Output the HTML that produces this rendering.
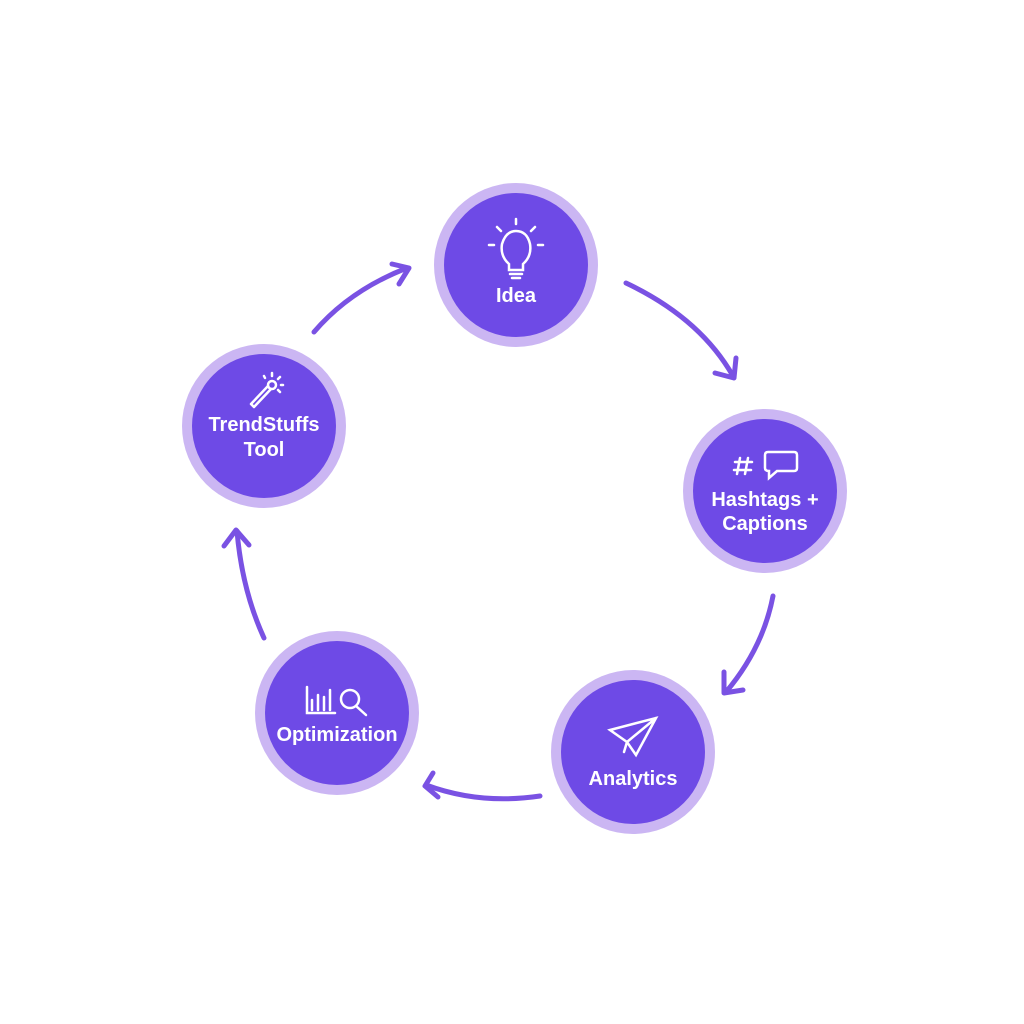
<!DOCTYPE html>
<html><head><meta charset="utf-8"><style>
html,body{margin:0;padding:0;background:#fff;width:1024px;height:1024px;overflow:hidden}
svg{display:block}
text{font-family:"Liberation Sans",sans-serif;font-weight:bold;fill:#fff;text-anchor:middle}
</style></head><body>
<svg width="1024" height="1024" viewBox="0 0 1024 1024">
<defs>
<marker id="a" viewBox="0 0 20 20" refX="12" refY="10" markerWidth="6" markerHeight="6" markerUnits="userSpaceOnUse" orient="auto" overflow="visible">
</marker>
</defs>
<g fill="none" stroke="#7a52e3" stroke-width="5" stroke-linecap="round" stroke-linejoin="round">
<path d="M314 332 Q350 290 407 268"/><path d="M392 264 L409 268 L399 284"/>
<path d="M626 283 Q700 318 733 376"/><path d="M715 373 L734 378 L736 358"/>
<path d="M773 596 Q763 648 726 692"/><path d="M724 672 L724 693 L743 690"/>
<path d="M540 796 Q480 805 426 785"/><path d="M433 773 L425 786 L438 797"/>
<path d="M264 638 Q242 590 237 531"/><path d="M224 546 L236 530 L249 545"/>
</g>
<g>
<circle cx="516" cy="265" r="82" fill="#cbb6f3"/><circle cx="516" cy="265" r="72" fill="#6e4ae6"/>
<circle cx="765" cy="491" r="82" fill="#cbb6f3"/><circle cx="765" cy="491" r="72" fill="#6e4ae6"/>
<circle cx="633" cy="752" r="82" fill="#cbb6f3"/><circle cx="633" cy="752" r="72" fill="#6e4ae6"/>
<circle cx="337" cy="713" r="82" fill="#cbb6f3"/><circle cx="337" cy="713" r="72" fill="#6e4ae6"/>
<circle cx="264" cy="426" r="82" fill="#cbb6f3"/><circle cx="264" cy="426" r="72" fill="#6e4ae6"/>
</g>
<g fill="none" stroke="#fff" stroke-width="2.5" stroke-linecap="round">
<!-- bulb -->
<path d="M509 264 Q500 256 502 244 Q506 231 516 231 Q527 231 530 244 Q532 256 523 264 L523 270 L509 270 Z"/>
<path d="M510 274 L522 274 M512 278 L520 278 M516 219 L516 224 M497 227 L501 231 M535 227 L531 231 M489 245 L494 245 M538 245 L543 245"/>
<!-- hash + bubble -->
<path d="M740 458 L737 474 M748 458 L745 474 M735 462 L752 462 M734 470 L751 470"/>
<path d="M768 452 L794 452 Q797 452 797 455 L797 468 Q797 471 794 471 L777 471 L769 478 L769 471 Q765 471 765 468 L765 455 Q765 452 768 452 Z"/>
<!-- plane -->
<path d="M610 730 L656 718 L636 755 L627 742 Z M627 742 L656 718 M627 742 L624 752"/>
<!-- chart + magnifier -->
<path d="M307 687 L307 713 L335 713 M312 700 L312 710 M318 695 L318 710 M324 697 L324 710 M330 690 L330 710"/>
<circle cx="350" cy="699" r="9"/><path d="M356 706 L366 715"/>
<!-- wand -->
<path d="M251 404 L268 386 M254 407 L271 389 M251 404 L254 407"/>
<circle cx="272" cy="385" r="4"/>
<path d="M264 376 L265 378 M272 373 L272 376 M280 377 L278 379 M283 385 L281 385 M280 392 L278 390"/>
</g>
<text x="516" y="302" font-size="20">Idea</text>
<text x="765" y="506" font-size="20">Hashtags +</text>
<text x="765" y="530" font-size="20">Captions</text>
<text x="633" y="785" font-size="20">Analytics</text>
<text x="337" y="741" font-size="20">Optimization</text>
<text x="264" y="431" font-size="20">TrendStuffs</text>
<text x="264" y="456" font-size="20">Tool</text>
</svg>
</body></html>
